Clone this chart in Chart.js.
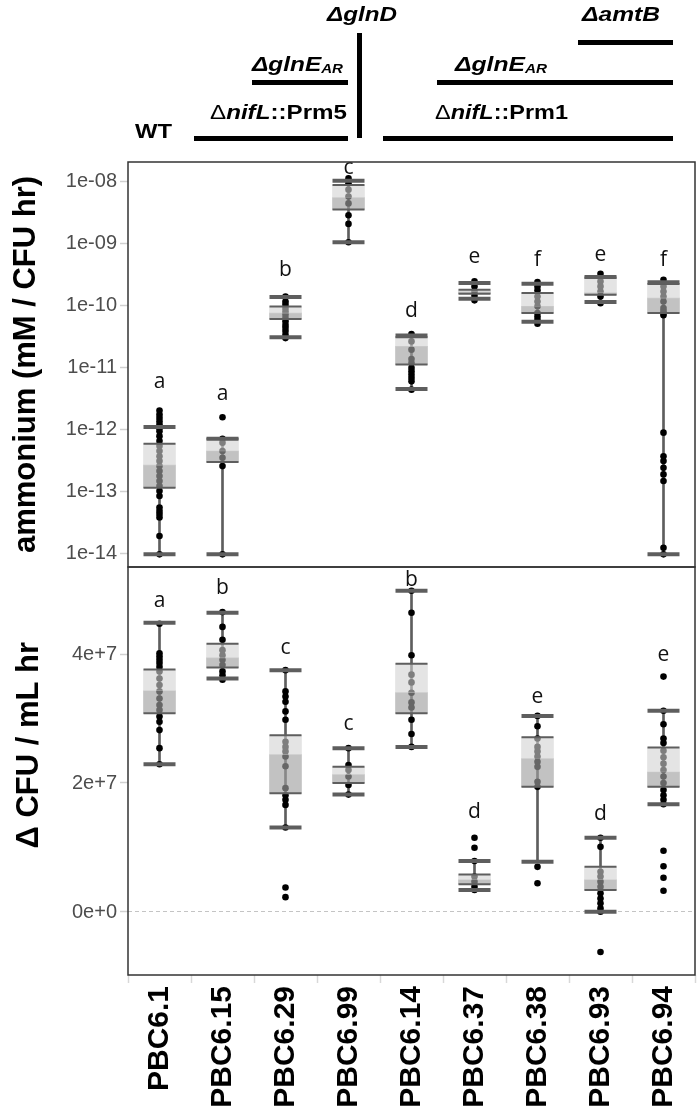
<!DOCTYPE html>
<html><head><meta charset="utf-8">
<script src="https://cdn.jsdelivr.net/npm/chart.js@4.4.1/dist/chart.umd.min.js"></script>
<style>
html,body{margin:0;padding:0;background:#fff;}
#wrap{position:relative;width:700px;height:1118px;overflow:hidden;background:#fff;}
canvas{position:absolute;left:0;}
#c1{top:0;}
#c2{top:560px;}
.h{position:absolute;font-family:"Liberation Sans",Arial,sans-serif;font-weight:bold;font-style:italic;font-size:21px;line-height:21px;color:#000;white-space:nowrap;transform-origin:0 0;z-index:2;}
.h sub{font-size:13px;vertical-align:-2px;line-height:0;}
.h .up{font-style:normal;}
.h .d{font-weight:normal;font-style:normal;}
.ln{position:absolute;background:#000;z-index:2;}
</style></head>
<body>
<div id="wrap">
  <canvas id="c1" width="700" height="568"></canvas>
  <canvas id="c2" width="700" height="558"></canvas>
  <div class="h" data-w="70" style="left:327px;top:3px;">ΔglnD</div>
  <div class="h" data-w="78" style="left:582px;top:3px;">ΔamtB</div>
  <div class="h" data-w="91" style="left:252px;top:53px;">ΔglnE<sub>AR</sub></div>
  <div class="h" data-w="92" style="left:455px;top:53px;">ΔglnE<sub>AR</sub></div>
  <div class="h" data-w="137" style="left:210px;top:101px;"><span class="d">Δ</span>nifL<span class="up">::Prm5</span></div>
  <div class="h" data-w="133" style="left:435px;top:101px;"><span class="d">Δ</span>nifL<span class="up">::Prm1</span></div>
  <div class="h" data-w="37" style="left:135px;top:120px;font-style:normal;">WT</div>
  <div class="ln" style="left:357px;top:33px;width:4.5px;height:105px;"></div>
  <div class="ln" style="left:578px;top:40px;width:95px;height:5px;"></div>
  <div class="ln" style="left:252px;top:80px;width:96px;height:5px;"></div>
  <div class="ln" style="left:437px;top:80px;width:236px;height:5px;"></div>
  <div class="ln" style="left:194px;top:136px;width:154px;height:5px;"></div>
  <div class="ln" style="left:383px;top:136px;width:290px;height:5px;"></div>
</div>
<script>
// ---------- data ----------
const categories = ['PBC6.1','PBC6.15','PBC6.29','PBC6.99','PBC6.14','PBC6.37','PBC6.38','PBC6.93','PBC6.94'];

// ammonium (mM / CFU hr), log scale
const nh4WhiskerLow  = [9.6e-15, 9.6e-15, 3.1e-11, 1.06e-9, 4.5e-12, 1.3e-10, 5.5e-11, 1.15e-10, 9.6e-15];
const nh4Q1          = [1.15e-13, 2.97e-13, 6.1e-11, 3.6e-9, 1.12e-11, 1.56e-10, 7.6e-11, 1.5e-10, 7.6e-11];
const nh4Median      = [2.65e-13, 4.5e-13, 7.6e-11, 5.6e-9, 2.2e-11, 1.68e-10, 9.8e-11, 1.62e-10, 1.33e-10];
const nh4Q3          = [5.9e-13, 7.1e-13, 9.7e-11, 8.9e-9, 3.1e-11, 1.81e-10, 1.6e-10, 2.85e-10, 2.25e-10];
const nh4WhiskerHigh = [1.1e-12, 7.1e-13, 1.38e-10, 1.05e-8, 3.3e-11, 2.32e-10, 2.26e-10, 2.9e-10, 2.4e-10];
const nh4Points = [
  [2.02e-12,1.75e-12,1.54e-12,1.36e-12,1.2e-12,1.06e-12,9.4e-13,7.8e-13,6.5e-13,5.4e-13,4.5e-13,3.7e-13,3.1e-13,2.56e-13,2.13e-13,1.77e-13,1.47e-13,1.22e-13,1.01e-13,8.4e-14,5.5e-14,4.8e-14,4.3e-14,3.8e-14,1.9e-14,9.6e-15],
  [1.58e-12,7.1e-13,6.1e-13,4.5e-13,3.5e-13,2.56e-13,9.6e-15],
  [1.41e-10,1.17e-10,1.04e-10,9.2e-11,8.1e-11,7.2e-11,6.3e-11,5.6e-11,4.9e-11,4.4e-11,3.9e-11,3.4e-11,3.0e-11],
  [1.15e-8,9.5e-9,7.5e-9,5.8e-9,4.5e-9,2.9e-9,2.1e-9,1.06e-9],
  [3.5e-11,2.65e-11,1.95e-11,1.38e-11,1.19e-11,9.9e-12,8.7e-12,7.7e-12,6.8e-12,6.0e-12,4.4e-12],
  [2.47e-10,2.05e-10,1.7e-10,1.45e-10,1.22e-10],
  [2.41e-10,2.05e-10,1.77e-10,1.41e-10,1.17e-10,9.8e-11,7.6e-11,6.7e-11,5.9e-11,5.1e-11],
  [3.28e-10,2.47e-10,2.05e-10,1.7e-10,1.41e-10,1.1e-10],
  [2.63e-10,2.05e-10,1.7e-10,1.41e-10,1.17e-10,9.2e-11,8.3e-11,7.6e-11,7.0e-11,8.9e-13,3.7e-13,3.1e-13,2.4e-13,1.88e-13,1.47e-13,1.23e-14,9.6e-15]
];
const nh4Letters   = ['a','a','b','c','d','e','f','e','f'];
const nh4LetterAt  = [5.9e-12, 3.7e-12, 3.8e-10, 1.68e-8, 8.1e-11, 6.2e-10, 5.5e-10, 6.6e-10, 5.5e-10];
const nh4TickValues = [1e-14, 1e-13, 1e-12, 1e-11, 1e-10, 1e-9, 1e-8];
const nh4TickLabels = ['1e-14','1e-13','1e-12','1e-11','1e-10','1e-09','1e-08'];

// delta CFU / mL hr, linear scale
const cfuWhiskerLow  = [2.29e7, 3.62e7, 1.31e7, 1.82e7, 2.56e7, 3.4e6, 7.8e6, 5e4, 1.67e7];
const cfuQ1          = [3.08e7, 3.79e7, 1.84e7, 2.0e7, 3.08e7, 4.3e6, 1.94e7, 3.4e6, 1.94e7];
const cfuMedian      = [3.43e7, 3.94e7, 2.44e7, 2.13e7, 3.40e7, 5.0e6, 2.38e7, 5.0e6, 2.17e7];
const cfuQ3          = [3.76e7, 4.16e7, 2.74e7, 2.25e7, 3.85e7, 5.8e6, 2.71e7, 7.0e6, 2.55e7];
const cfuWhiskerHigh = [4.485e7, 4.64e7, 3.75e7, 2.54e7, 4.98e7, 7.9e6, 3.04e7, 1.15e7, 3.12e7];
const cfuPoints = [
  [4.47e7,4.01e7,3.96e7,3.91e7,3.86e7,3.80e7,3.73e7,3.62e7,3.52e7,3.42e7,3.31e7,3.21e7,3.13e7,3.03e7,2.95e7,2.82e7,2.54e7,2.29e7],
  [4.65e7,4.42e7,4.22e7,4.06e7,3.98e7,3.91e7,3.83e7,3.73e7,3.67e7,3.60e7],
  [3.75e7,3.42e7,3.34e7,3.26e7,3.11e7,2.98e7,2.64e7,2.56e7,2.49e7,2.41e7,2.26e7,1.92e7,1.81e7,1.74e7,1.66e7,1.31e7,3.8e6,2.3e6],
  [2.54e7,2.28e7,2.2e7,2.1e7,1.97e7,1.82e7],
  [4.98e7,4.64e7,3.98e7,3.68e7,3.56e7,3.40e7,3.25e7,3.17e7,2.98e7,2.76e7,2.56e7],
  [1.15e7,9.97e6,7.9e6,5.5e6,4.7e6,3.9e6,3.4e6],
  [3.04e7,2.88e7,2.69e7,2.56e7,2.49e7,2.41e7,2.33e7,2.25e7,2.02e7,1.94e7,7.0e6,4.45e6],
  [1.15e7,1.01e7,6.25e6,5.5e6,4.7e6,3.9e6,2.9e6,2.1e6,1.35e6,5.7e5,5e4,-6.2e6],
  [3.65e7,3.12e7,2.91e7,2.69e7,2.62e7,2.5e7,2.4e7,2.3e7,2.2e7,2.1e7,2.0e7,1.89e7,1.81e7,1.74e7,1.67e7,9.5e6,7.1e6,5.3e6,3.3e6]
];
const cfuLetters  = ['a','b','c','c','b','d','e','d','e'];
const cfuLetterAt = [4.82e7, 5.02e7, 4.10e7, 2.91e7, 5.15e7, 1.555e7, 3.34e7, 1.515e7, 3.98e7];
const cfuTickValues = [0, 2e7, 4e7];
const cfuTickLabels = ['0e+0','2e+7','4e+7'];

// ---------- styling / helpers ----------
document.querySelectorAll('.h').forEach(el => {
  const w = el.getBoundingClientRect().width;
  el.style.transform = 'scaleX(' + (parseFloat(el.dataset.w) / w) + ')';
});

Chart.defaults.font.family = '"Liberation Sans", Arial, sans-serif';
const LINE_GREY = '#5e5e5e';

function buildDatasets(lo, q1, med, q3, hi, pts) {
  const cat = categories;
  return [
    {type:'bar', label:'whisker', data: cat.map((_, i) => [lo[i], hi[i]]),
     backgroundColor: LINE_GREY, barThickness: 2, grouped: false, order: 6},
    {type:'line', label:'points', data: pts.flatMap((arr, i) => arr.map(v => ({x: cat[i], y: v}))),
     showLine: false, pointRadius: 3.3, pointBackgroundColor: '#000', pointBorderWidth: 0, order: 5},
    {type:'bar', label:'lower half', data: cat.map((_, i) => [q1[i], med[i]]),
     backgroundColor: 'rgba(160,160,160,0.64)', barThickness: 32, grouped: false, order: 4},
    {type:'bar', label:'upper half', data: cat.map((_, i) => [med[i], q3[i]]),
     backgroundColor: 'rgba(210,210,210,0.6)', barThickness: 32, grouped: false, order: 3},
    {type:'line', label:'quartiles', data: cat.flatMap((c, i) => [{x: c, y: q1[i]}, {x: c, y: q3[i]}]),
     showLine: false, pointStyle: 'line', pointRadius: 16, pointBorderWidth: 2, pointBorderColor: LINE_GREY, order: 2},
    {type:'line', label:'caps', data: cat.flatMap((c, i) => [{x: c, y: lo[i]}, {x: c, y: hi[i]}]),
     showLine: false, pointStyle: 'line', pointRadius: 16, pointBorderWidth: 4, pointBorderColor: LINE_GREY, order: 1}
  ];
}

const framePlugin = {
  id: 'frame',
  afterDraw(chart) {
    const {ctx, chartArea: a} = chart;
    ctx.save();
    ctx.strokeStyle = '#333';
    ctx.lineWidth = 1.5;
    ctx.strokeRect(a.left, a.top, a.right - a.left, a.bottom - a.top);
    ctx.restore();
  }
};
const letterPlugin = {
  id: 'letters',
  afterDatasetsDraw(chart, args, opts) {
    const {ctx} = chart;
    const xs = chart.scales.x, ys = chart.scales.y;
    ctx.save();
    ctx.font = '21px "Open Sans", sans-serif';
    ctx.fillStyle = '#111';
    ctx.textAlign = 'center';
    ctx.textBaseline = 'middle';
    opts.letters.forEach((t, i) => ctx.fillText(t, xs.getPixelForValue(i), ys.getPixelForValue(opts.at[i])));
    ctx.restore();
  }
};
function fixY(s) { s.width = 128; s.paddingTop = 0; s.paddingBottom = 0; }
function fixX(s) { s.height = 143; s.paddingLeft = 0; s.paddingRight = 0; }

const tickFont = {size: 20};
const titleFont = {size: 31, weight: 'bold'};

// ---------- top chart ----------
new Chart(document.getElementById('c1'), {
  type: 'bar',
  data: {labels: categories, datasets: buildDatasets(nh4WhiskerLow, nh4Q1, nh4Median, nh4Q3, nh4WhiskerHigh, nh4Points)},
  options: {
    responsive: false, animation: false, events: [],
    layout: {autoPadding: false, padding: {top: 162, right: 5, bottom: 1, left: 0}},
    plugins: {legend: {display: false}, tooltip: {enabled: false},
              letters: {letters: nh4Letters, at: nh4LetterAt}},
    scales: {
      x: {type: 'category', display: false},
      y: {
        type: 'logarithmic', min: 6.2e-15, max: 2.1e-8,
        afterFit: fixY,
        afterBuildTicks: s => { s.ticks = nh4TickValues.map(v => ({value: v})); },
        ticks: {callback: v => { const i = nh4TickValues.indexOf(v); return i >= 0 ? nh4TickLabels[i] : ''; },
                font: tickFont, color: '#4d4d4d', padding: 3, autoSkip: false},
        grid: {drawOnChartArea: false, tickLength: 8, color: '#d0d0d0', tickWidth: 1.5},
        border: {display: false},
        title: {display: true, text: 'ammonium (mM / CFU hr)', font: titleFont, color: '#000', padding: {top: 8, bottom: 0}}
      }
    }
  },
  plugins: [framePlugin, letterPlugin]
});

// ---------- bottom chart ----------
new Chart(document.getElementById('c2'), {
  type: 'bar',
  data: {labels: categories, datasets: buildDatasets(cfuWhiskerLow, cfuQ1, cfuMedian, cfuQ3, cfuWhiskerHigh, cfuPoints)},
  options: {
    responsive: false, animation: false, events: [],
    layout: {autoPadding: false, padding: {top: 7, right: 5, bottom: 0, left: 0}},
    plugins: {legend: {display: false}, tooltip: {enabled: false},
              letters: {letters: cfuLetters, at: cfuLetterAt}},
    scales: {
      x: {
        type: 'category',
        afterFit: fixX,
        ticks: {font: {size: 30, weight: 'bold'}, color: '#000', minRotation: 90, maxRotation: 90, autoSkip: false, padding: 3},
        grid: {drawOnChartArea: false, tickLength: 8, color: '#d8d8d8', tickWidth: 1.5},
        border: {display: false}
      },
      y: {
        type: 'linear', min: -9.77e6, max: 5.349e7,
        afterFit: fixY,
        afterBuildTicks: s => { s.ticks = cfuTickValues.map(v => ({value: v})); },
        ticks: {callback: v => { const i = cfuTickValues.indexOf(v); return i >= 0 ? cfuTickLabels[i] : ''; },
                font: tickFont, color: '#4d4d4d', padding: 3, autoSkip: false},
        grid: {drawOnChartArea: true, tickLength: 8, tickWidth: 1.5, tickColor: '#d0d0d0',
               color: c => (c.tick && c.tick.value === 0) ? '#c4c4c4' : 'rgba(0,0,0,0)', lineWidth: 1},
        border: {display: false, dash: [4, 3]},
        title: {display: true, text: '      Δ CFU / mL hr', font: titleFont, color: '#000', padding: {top: 11, bottom: 0}}
      }
    }
  },
  plugins: [framePlugin, letterPlugin]
});
</script>
</body></html>
